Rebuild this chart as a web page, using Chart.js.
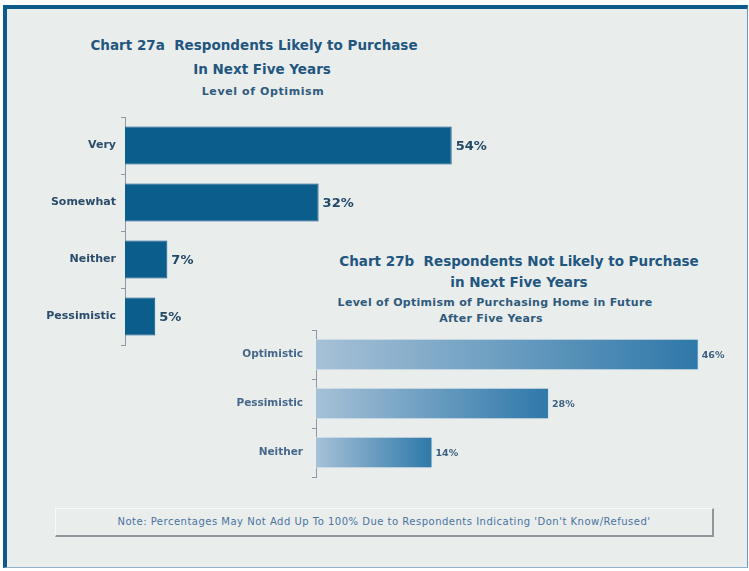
<!DOCTYPE html>
<html>
<head>
<meta charset="utf-8">
<script src="https://cdn.jsdelivr.net/npm/chart.js@4.4.1/dist/chart.umd.min.js"></script>
<style>
  html, body { margin: 0; padding: 0; background: #fff; }
  #frame {
    position: absolute; left: 3px; top: 5px; width: 745px; height: 563px;
    box-sizing: border-box; background: #e9edec;
    border-top: 4px solid #0b5a8a; border-left: 4px solid #0b5a8a;
    border-right: 1px solid #6d97b5; border-bottom: 1px solid #8fb0c7;
  }
  .txt { position: absolute; white-space: pre; transform: translate(-50%, -50%);
         font-family: "DejaVu Sans", sans-serif; font-weight: bold; color: #22567f; }
  .t1 { font-size: 13.5px; }
  .t2 { font-size: 11px; color: #2f5a7c; letter-spacing: 0.6px; }
  .t3 { font-size: 11px; color: #2f5a7c; letter-spacing: 0.3px; }
  .box { position: absolute; }
  #note {
    position: absolute; left: 55px; top: 508px; width: 659px; height: 29px;
    box-sizing: border-box; border-top: 1px solid #f8faf9; border-left: 1px solid #f8faf9;
    border-right: 2px solid #8f979c; border-bottom: 2px solid #8f979c;
    font-family: "DejaVu Sans", sans-serif; font-size: 10px; letter-spacing: 0.5px; color: #4a73a0;
    text-align: center; line-height: 26px;
  }
</style>
</head>
<body>
<div id="frame"></div>

<div class="txt t1" style="left:254px; top:45px;">Chart 27a  Respondents Likely to Purchase</div>
<div class="txt t1" style="left:262px; top:69px;">In Next Five Years</div>
<div class="txt t2" style="left:263px; top:91px;">Level of Optimism</div>

<div class="txt t1" style="left:519px; top:261px;">Chart 27b  Respondents Not Likely to Purchase</div>
<div class="txt t1" style="left:519px; top:282px;">in Next Five Years</div>
<div class="txt t3" style="left:495px; top:302px;">Level of Optimism of Purchasing Home in Future</div>
<div class="txt t3" style="left:491px; top:318px;">After Five Years</div>

<div class="box" style="left:0px; top:100px;"><canvas id="likely" width="500" height="260"></canvas></div>
<div class="box" style="left:220px; top:320px;"><canvas id="notLikely" width="529" height="170"></canvas></div>

<div id="note">Note: Percentages May Not Add Up To 100% Due to Respondents Indicating 'Don't Know/Refused'</div>

<script>
// Chart 27a - likely to purchase in next five years
const optimismLabels = ['Very', 'Somewhat', 'Neither', 'Pessimistic'];
const optimismValues = [54, 32, 7, 5];

// Chart 27b - not likely to purchase, optimism after five years
const futureLabels = ['Optimistic', 'Pessimistic', 'Neither'];
const futureValues = [46, 28, 14];

// writes "NN%" just past the end of each bar
const valueLabels = {
    id: 'valueLabels',
    afterDatasetsDraw(chart, args, opts) {
        const ctx = chart.ctx;
        const meta = chart.getDatasetMeta(0);
        ctx.save();
        ctx.font = opts.font;
        ctx.fillStyle = opts.color;
        ctx.textAlign = 'left';
        ctx.textBaseline = 'middle';
        meta.data.forEach(function (bar, i) {
            ctx.fillText(chart.data.datasets[0].data[i] + '%', bar.x + opts.offset, bar.y + 1);
        });
        ctx.restore();
    }
};

function axisSetup(width, fontSize, color, pad) {
    return {
        // fixed axis width, and no extra room for the end labels
        afterFit: function (scale) {
            scale.width = width;
            scale.paddingTop = 0;
            scale.paddingBottom = 0;
        },
        border: { display: true, color: '#8d9aa6', width: 1 },
        grid: { display: true, offset: true, drawOnChartArea: false, drawTicks: true, tickLength: 4, color: '#8d9aa6' },
        ticks: {
            color: color,
            padding: pad,
            font: { family: 'DejaVu Sans', size: fontSize, weight: 'bold' }
        }
    };
}

new Chart(document.getElementById('likely'), {
    type: 'bar',
    data: {
        labels: optimismLabels,
        datasets: [
            {
                data: optimismValues,
                backgroundColor: '#0b5d8c',
                borderColor: '#0a5482',
                borderWidth: 1,
                borderSkipped: 'left',
                categoryPercentage: 1,
                barPercentage: 0.67
            }
        ]
    },
    options: {
        indexAxis: 'y',
        responsive: false,
        animation: false,
        layout: { padding: { top: 17, bottom: 15, right: 12, left: 0 } },
        scales: {
            x: { display: false, min: 0, max: 60 },
            y: axisSetup(125, 11, '#2b4b69', 5)
        },
        plugins: {
            legend: { display: false },
            tooltip: { enabled: false },
            valueLabels: { font: 'bold 13px "DejaVu Sans"', color: '#234866', offset: 4 }
        }
    },
    plugins: [valueLabels]
});

new Chart(document.getElementById('notLikely'), {
    type: 'bar',
    data: {
        labels: futureLabels,
        datasets: [
            {
                data: futureValues,
                // light-to-dark sweep along each bar
                backgroundColor: function (context) {
                    const chart = context.chart;
                    const x = chart.scales.x;
                    if (!x || context.raw === undefined) return '#5f93bb';
                    const x0 = x.getPixelForValue(0);
                    const x1 = x.getPixelForValue(context.raw);
                    if (!isFinite(x0) || !isFinite(x1) || x1 <= x0) return '#5f93bb';
                    const g = chart.ctx.createLinearGradient(x0, 0, x1, 0);
                    g.addColorStop(0, '#a6c1d7');
                    g.addColorStop(1, '#2e78a9');
                    return g;
                },
                borderColor: '#d6e2ea',
                borderWidth: 1,
                categoryPercentage: 1,
                barPercentage: 0.64
            }
        ]
    },
    options: {
        indexAxis: 'y',
        responsive: false,
        animation: false,
        layout: { padding: { top: 10, bottom: 13, right: 17, left: 0 } },
        scales: {
            x: { display: false, min: 0, max: 50 },
            y: axisSetup(96, 10.5, '#46678a', 9)
        },
        plugins: {
            legend: { display: false },
            tooltip: { enabled: false },
            valueLabels: { font: 'bold 9.5px "DejaVu Sans"', color: '#3d5f80', offset: 3 }
        }
    },
    plugins: [valueLabels]
});
</script>
</body>
</html>
